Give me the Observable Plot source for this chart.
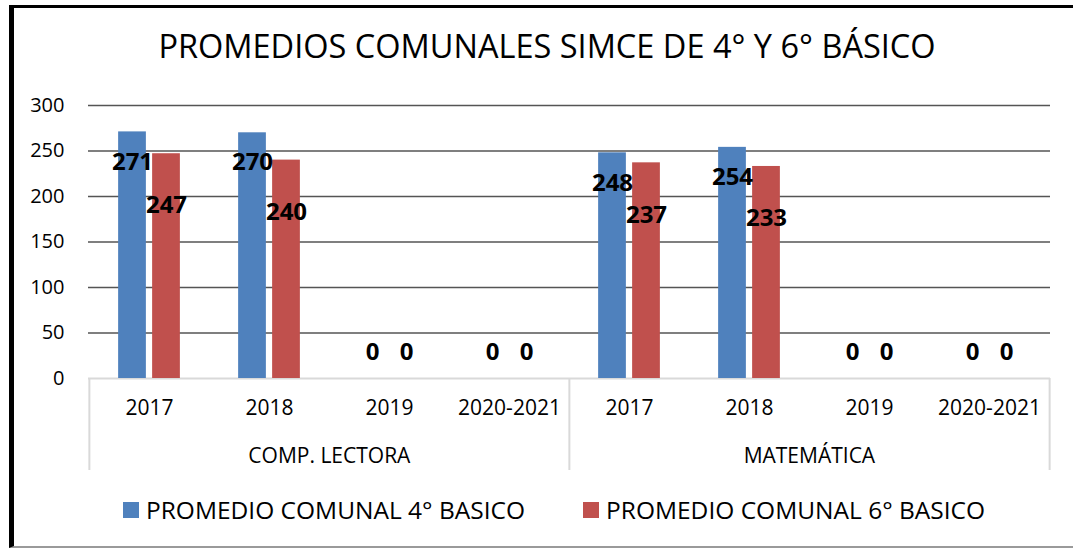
<!DOCTYPE html>
<html>
<head>
<meta charset="utf-8">
<script src="https://cdn.jsdelivr.net/npm/d3@7"></script>
<script src="https://cdn.jsdelivr.net/npm/@observablehq/plot@0.6"></script>
<style>
  html, body { margin: 0; padding: 0; background: #fff; }
  #root { position: relative; width: 1073px; height: 548px; overflow: hidden; font-family: "Open Sans", sans-serif; }
  #frame { position: absolute; left: 9px; top: 5px; width: 1064px; height: 543px; box-sizing: border-box;
           border-left: 5px solid #000; border-top: 3px solid #000; border-bottom: 2px solid #9a9a9a; }
  #title { position: absolute; left: 47px; width: 1000px; top: 24px; text-align: center; font-size: 32.5px; line-height: 44px; color: #000; }
  #chart { position: absolute; left: 0; top: 0; }
  #legend { position: absolute; left: 123px; top: 493px; }
  #legend .leg-swatch { margin-right: 58px; font-size: 24.5px; color: #000; }
  #legend .leg-swatch > svg { margin-right: 7px; }
</style>
</head>
<body>
<div id="root">
  <div id="frame"></div>
  <div id="title">PROMEDIOS COMUNALES SIMCE DE 4° Y 6° BÁSICO</div>
  <div id="chart"></div>
  <div id="legend"></div>
</div>
<script>
const groups = ["COMP. LECTORA", "MATEMÁTICA"];
const years = ["2017", "2018", "2019", "2020-2021"];
const series = ["PROMEDIO COMUNAL 4° BASICO", "PROMEDIO COMUNAL 6° BASICO"];
const values4 = [271, 270, 0, 0, 248, 254, 0, 0];
const values6 = [247, 240, 0, 0, 237, 233, 0, 0];
const colors = ["#4F81BD", "#C0504D"];
const yTicks = [0, 50, 100, 150, 200, 250, 300];

const keys = [];
groups.forEach(g => years.forEach(y => keys.push(g + "|" + y)));
const rows = [];
keys.forEach((k, i) => {
  rows.push({key: k, series: series[0], value: values4[i]});
  rows.push({key: k, series: series[1], value: values6[i]});
});

const W = 1073, H = 480, mL = 88, mR = 23, mT = 105, mB = 102;
const bw = (W - mL - mR) / keys.length;
const off = 17;
const barW = 28;
const innerInset = bw / 2 - off - barW / 2;
const outerInset = bw / 2 + off - barW / 2;

const groupMid = groups.map(g => g + "|" + years[2]);
const edges = [keys[0], keys[4]];

const chart = Plot.plot({
  width: W, height: H,
  marginLeft: mL, marginRight: mR, marginTop: mT, marginBottom: mB,
  style: {fontFamily: "Open Sans, sans-serif", fontSize: "20px", color: "#000", background: "transparent"},
  x: {domain: keys, padding: 0, label: null},
  y: {domain: [0, 300], label: null},
  color: {domain: series, range: colors},
  marks: [
    Plot.gridY(yTicks.slice(1), {stroke: "#555", strokeOpacity: 1, strokeWidth: 1.3}),
    Plot.ruleY([0], {stroke: "#d9d9d9", strokeWidth: 2}),
    Plot.barY(rows, {filter: d => d.series === series[0], x: "key", y: "value", fill: "series", insetLeft: innerInset, insetRight: outerInset}),
    Plot.barY(rows, {filter: d => d.series === series[1], x: "key", y: "value", fill: "series", insetLeft: outerInset, insetRight: innerInset}),
    Plot.text(rows, {filter: d => d.series === series[0] && d.value > 0, x: "key", y: "value", text: d => String(d.value), dx: -off, dy: 30, fontWeight: "bold", fontSize: 24}),
    Plot.text(rows, {filter: d => d.series === series[1] && d.value > 0, x: "key", y: "value", text: d => String(d.value), dx: off, dy: 52, fontWeight: "bold", fontSize: 24}),
    Plot.text(rows, {filter: d => d.series === series[0] && d.value === 0, x: "key", y: "value", text: d => String(d.value), dx: -off, dy: -26, fontWeight: "bold", fontSize: 24}),
    Plot.text(rows, {filter: d => d.series === series[1] && d.value === 0, x: "key", y: "value", text: d => String(d.value), dx: off, dy: -26, fontWeight: "bold", fontSize: 24}),
    Plot.axisY(yTicks, {tickSize: 0, tickPadding: 24, fontSize: 20, label: null}),
    Plot.axisX({tickSize: 0, tickPadding: 22, fontSize: 21, label: null, tickFormat: k => k.split("|")[1]}),
    Plot.axisX(groupMid, {tickSize: 0, tickPadding: 70, fontSize: 21, label: null, dx: -bw / 2, tickFormat: k => k.split("|")[0]}),
    Plot.axisX(edges, {tickSize: 92, text: null, label: null, stroke: "#d9d9d9", strokeWidth: 2, dx: -bw / 2}),
    Plot.axisX([keys[keys.length - 1]], {tickSize: 92, text: null, label: null, stroke: "#d9d9d9", strokeWidth: 2, dx: bw / 2})
  ]
});
document.getElementById("chart").appendChild(chart);

const legend = Plot.legend({
  color: {domain: series, range: colors},
  swatchSize: 16,
  className: "leg",
  style: {fontFamily: "Open Sans, sans-serif", fontSize: "24.5px", color: "#000"}
});
document.getElementById("legend").appendChild(legend);
</script>
</body>
</html>
